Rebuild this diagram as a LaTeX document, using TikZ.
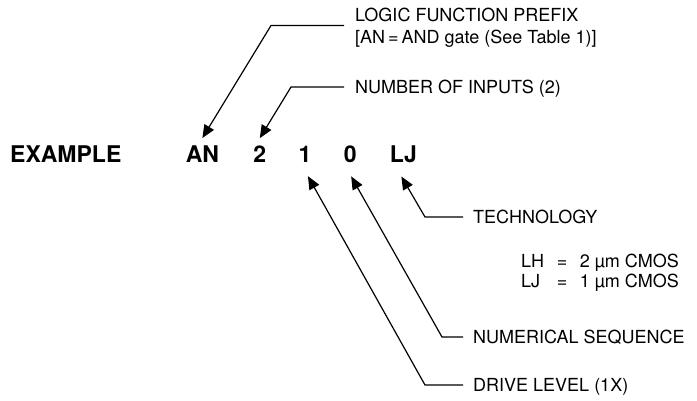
\documentclass[tikz,border=0pt]{standalone}
\usepackage{fontspec}
\setmainfont{TeX Gyre Heros}
\usetikzlibrary{arrows.meta,positioning}

\begin{document}
\begin{tikzpicture}[
    x=1pt, y=-1pt,
    part/.style={font=\fontsize{23}{26}\selectfont\bfseries, inner sep=0pt},
    note/.style={font=\fontsize{18}{22}\selectfont, inner sep=0pt, anchor=west, align=left, text depth=0pt},
    pointer/.style={-{Triangle[length=13pt,width=11pt]}, line width=1.2pt}
]
    \useasboundingbox (0,0) rectangle (697,400);

    % Part number, field by field
    \node[part, anchor=base west] (example) at (10,162) {EXAMPLE};
    \node[part, base right=64pt of example] (an) {AN};
    \node[part, base right=34pt of an] (two) {2};
    \node[part, base right=32pt of two] (one) {1};
    \node[part, base right=32pt of one] (zero) {0};
    \node[part, base right=33pt of zero] (lj) {LJ};

    % Field descriptions
    \node[note] (prefix) at (355,25.5) {LOGIC FUNCTION PREFIX\\{}[AN\,=\,AND gate (See Table 1)]};
    \node[note] (inputs) at (355,87) {NUMBER OF INPUTS (2)};
    \node[note] (tech) at (473,217) {TECHNOLOGY};
    \node[note] (seq) at (473,337) {NUMERICAL SEQUENCE};
    \node[note] (drive) at (473,385) {DRIVE LEVEL (1X)};
    \node[font=\fontsize{18}{20}\selectfont, inner sep=0pt, anchor=west] (process) at (521,273)
        {\begin{tabular}{@{}l@{\hspace{0.7em}=\hspace{0.7em}}l@{}}LH & 2 µm CMOS\\ LJ & 1 µm CMOS\end{tabular}};

    % Leaders
    \draw[pointer] ([xshift=-11pt]prefix.west) -- ++(-73,0) -- ([yshift=7pt]an.north);
    \draw[pointer] ([xshift=-11pt]inputs.west) -- ++(-53,0) -- ([yshift=7pt]two.north);
    \draw[pointer] ([xshift=-10pt]tech.west) -- ++(-38,0) -- ([shift={(-2pt,-14pt)}]lj.south);
    \draw[pointer] ([xshift=-10pt]seq.west) -- ++(-21,0) -- ([shift={(1pt,-14pt)}]zero.south);
    \draw[pointer] ([xshift=-10pt]drive.west) -- ++(-38,0) -- ([shift={(3pt,-14pt)}]one.south);
\end{tikzpicture}
\end{document}
